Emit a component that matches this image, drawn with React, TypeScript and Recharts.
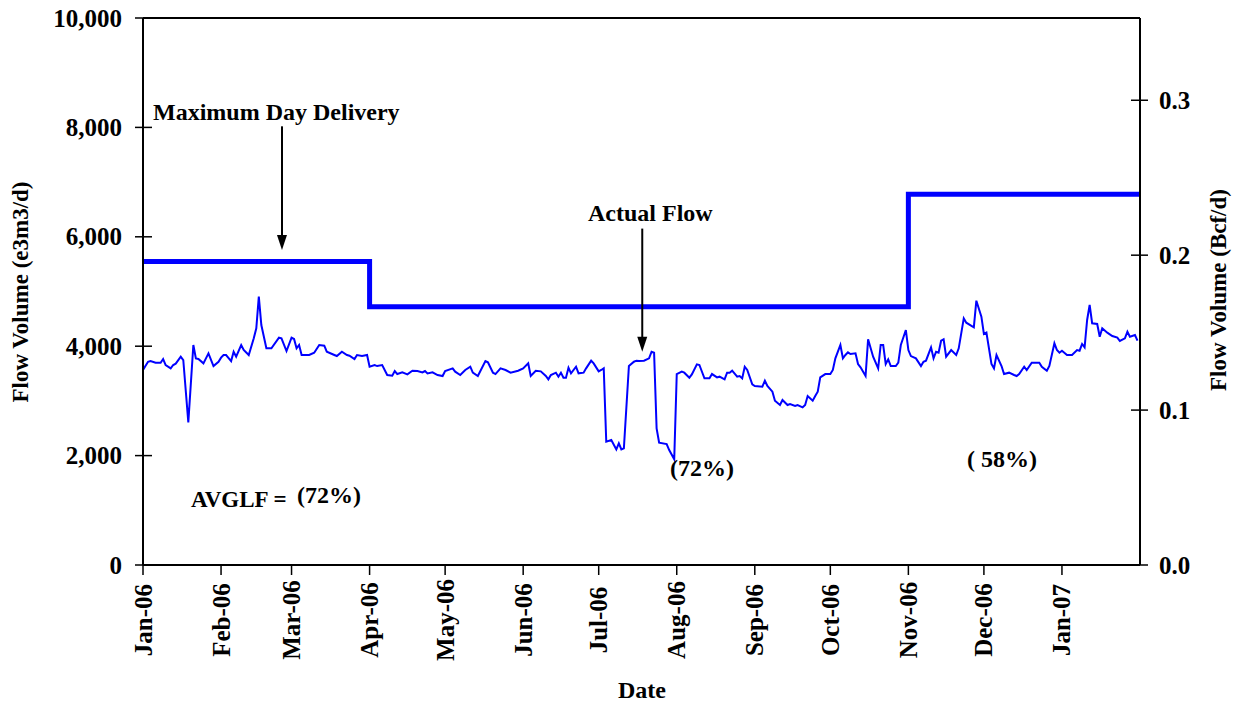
import React from 'react';
import { LineChart, Line, XAxis, YAxis, ReferenceLine } from 'recharts';

// x = days since 1 Jan 2006
const MONTH_TICKS = [0, 31, 59, 90, 120, 151, 181, 212, 243, 273, 304, 334, 365];
const MONTH_LABELS = ['Jan-06', 'Feb-06', 'Mar-06', 'Apr-06', 'May-06', 'Jun-06', 'Jul-06',
  'Aug-06', 'Sep-06', 'Oct-06', 'Nov-06', 'Dec-06', 'Jan-07'];

const LEFT_TICKS = [0, 2000, 4000, 6000, 8000, 10000];
const RIGHT_TICKS = [0, 0.1, 0.2, 0.3];

// Maximum day delivery (e3m3/d), step changes
const MDD_DAYS = [0, 90, 304, 396];
const MDD_VALUES = [5550, 4720, 6780, 6780];

// Actual flow (e3m3/d)
const FLOW_DAYS = [
  0, 2, 3, 5, 7, 8, 9, 11, 12, 13, 15, 16, 18, 20, 21, 22, 24, 26, 28, 30,
  31, 32, 33, 35, 36, 37, 39, 40, 42, 44, 45, 46, 47, 49, 51, 54, 55, 57, 59, 60,
  61, 62, 63, 66, 68, 70, 72, 73, 76, 77, 79, 81, 82, 84, 85, 87, 89, 90, 92, 93,
  95, 97, 99, 100, 101, 103, 105, 107, 109, 111, 112, 113, 115, 117, 119, 120, 123, 124, 126, 128,
  130, 131, 133, 136, 137, 139, 140, 142, 144, 146, 149, 151, 153, 154, 156, 158, 160, 161, 162, 164,
  165, 166, 167, 168, 169, 170, 172, 173, 175, 176, 178, 179, 181, 182, 183, 184, 186, 188, 189, 190,
  191, 193, 195, 196, 197, 199, 201, 202, 203, 204, 205, 208, 209, 211, 212, 214, 215, 217, 218, 220,
  221, 223, 225, 226, 228, 229, 231, 232, 233, 234, 236, 237, 238, 239, 240, 242, 243, 246, 247, 248,
  250, 251, 253, 254, 256, 257, 259, 260, 262, 263, 264, 266, 267, 268, 269, 271, 273, 274, 275, 276,
  277, 278, 279, 280, 281, 283, 284, 285, 287, 288, 290, 292, 293, 294, 295, 296, 297, 299, 300, 301,
  303, 304, 305, 307, 309, 310, 311, 313, 314, 315, 316, 317, 318, 319, 321, 323, 324, 326, 327, 330,
  331, 333, 334, 335, 337, 338, 339, 341, 342, 344, 346, 347, 348, 350, 351, 353, 356, 357, 359, 360,
  362, 363, 364, 365, 367, 369, 371, 372, 373, 374, 375, 376, 377, 379, 380, 381, 383, 385, 387, 388,
  390, 391, 392, 394, 395,
];
const FLOW_VALUES = [
  3565, 3716, 3729, 3698, 3698, 3766, 3656, 3595, 3656, 3680, 3808, 3747, 2608, 4022, 3778, 3766, 3686, 3869, 3637, 3716,
  3790, 3839, 3839, 3729, 3899, 3808, 4022, 3930, 3839, 4144, 4327, 4905, 4387, 3961, 3961, 4156, 4144, 3912, 4156, 4131,
  3961, 4022, 3839, 3839, 3881, 4022, 4010, 3899, 3839, 3820, 3899, 3839, 3827, 3766, 3839, 3820, 3839, 3625, 3656, 3637,
  3656, 3473, 3461, 3546, 3491, 3522, 3485, 3552, 3546, 3522, 3546, 3503, 3522, 3473, 3455, 3546, 3595, 3534, 3473, 3565,
  3625, 3516, 3455, 3729, 3705, 3516, 3491, 3595, 3565, 3516, 3552, 3595, 3686, 3455, 3552, 3540, 3455, 3394, 3473, 3516,
  3443, 3516, 3424, 3424, 3607, 3504, 3625, 3504, 3516, 3595, 3735, 3686, 3540, 3565, 3595, 2254, 2284, 2114, 2223, 2114,
  2132, 3638, 3716, 3735, 3729, 3735, 3778, 3899, 3881, 2499, 2236, 2211, 2102, 1932, 3491, 3534, 3516, 3424, 3485, 3668,
  3656, 3412, 3412, 3491, 3430, 3443, 3394, 3516, 3516, 3552, 3443, 3455, 3412, 3625, 3565, 3303, 3272, 3260, 3369, 3272,
  3168, 3004, 2925, 3016, 2925, 2943, 2907, 2925, 2883, 2925, 3089, 3004, 3089, 3168, 3431, 3491, 3491, 3565, 3778, 3900,
  4022, 3778, 3839, 3888, 3857, 3869, 3674, 3613, 3455, 4126, 3808, 3595, 4022, 4022, 3674, 3759, 3638, 3638, 3698, 4022,
  4296, 3930, 3820, 3778, 3638, 3716, 3735, 3979, 3778, 3899, 3881, 4101, 4126, 3808, 3930, 3839, 3961, 4509, 4430, 4345,
  4832, 4539, 4223, 4248, 3674, 3595, 3839, 3638, 3491, 3516, 3473, 3455, 3491, 3625, 3565, 3698, 3698, 3625, 3552, 3638,
  4052, 3930, 3881, 3918, 3839, 3839, 3930, 3918, 4040, 3979, 4479, 4753, 4418, 4406, 4174, 4327, 4248, 4187, 4156, 4095,
  4144, 4265, 4174, 4205, 4101,
];

const flowData = FLOW_DAYS.map((d, i) => ({ day: d, flow: FLOW_VALUES[i] }));
const mddData = MDD_DAYS.map((d, i) => ({ day: d, mdd: MDD_VALUES[i] }));

const FONT = '"Liberation Serif", "Times New Roman", serif';
const BLUE = '#0000ff';

const LeftTick = (p: any) => {
  const ax = p.x + 21;
  return (
    <g>
      <line x1={ax - 8} x2={ax + 9} y1={p.y} y2={p.y} stroke="#000" strokeWidth={1.5} />
      <text x={p.x} y={p.y} dy="0.34em" textAnchor="end" fontFamily={FONT} fontWeight="bold" fontSize={25} fill="#000">
        {p.payload.value.toLocaleString('en-US')}
      </text>
    </g>
  );
};

const RightTick = (p: any) => {
  const ax = p.x - 19;
  return (
    <g>
      <line x1={ax - 9} x2={ax + 8} y1={p.y} y2={p.y} stroke="#000" strokeWidth={1.5} />
      <text x={p.x} y={p.y} dy="0.34em" textAnchor="start" fontFamily={FONT} fontWeight="bold" fontSize={25} fill="#000">
        {p.payload.value.toFixed(1)}
      </text>
    </g>
  );
};

const BottomTick = (p: any) => {
  const idx = MONTH_TICKS.indexOf(p.payload.value);
  const cy = 620;
  return (
    <g>
      <line x1={p.x} x2={p.x} y1={p.y} y2={p.y + 10} stroke="#000" strokeWidth={1.5} />
      <text x={p.x} y={cy} dy="0.34em" transform={`rotate(-90 ${p.x} ${cy})`} textAnchor="middle"
        fontFamily={FONT} fontWeight="bold" fontSize={25} fill="#000">
        {MONTH_LABELS[idx]}
      </text>
    </g>
  );
};

const Arrow = (p: any) => (
  <g>
    <line x1={p.x1} y1={p.y1} x2={p.x2} y2={p.y2 - 10} stroke="#000" strokeWidth={2} />
    <polygon points={`${p.x2},${p.y2} ${p.x2 - 5},${p.y2 - 15} ${p.x2 + 5},${p.y2 - 15}`} fill="#000" />
  </g>
);

const txt = { fontFamily: FONT, fontWeight: 'bold' as const, fill: '#000' };

export default function App() {
  return (
    <div style={{ position: 'absolute', left: 0, top: 0, width: 1242, height: 702, background: '#fff' }}>
      <LineChart width={1242} height={702} margin={{ top: 18, right: 0, bottom: 0, left: 0 }}>
        <XAxis
          dataKey="day" type="number" domain={[0, 396]} ticks={MONTH_TICKS}
          height={137} tickSize={0} tickMargin={0} tick={BottomTick}
          axisLine={{ stroke: '#000', strokeWidth: 2 }} allowDataOverflow
        />
        <YAxis
          yAxisId="left" domain={[0, 10000]} ticks={LEFT_TICKS} width={143}
          tickSize={0} tickMargin={21} tick={LeftTick}
          axisLine={{ stroke: '#000', strokeWidth: 2 }}
        />
        <YAxis
          yAxisId="right" orientation="right" domain={[0, 0.3531]} ticks={RIGHT_TICKS} width={102}
          tickSize={0} tickMargin={19} tick={RightTick}
          axisLine={{ stroke: '#000', strokeWidth: 2 }} allowDataOverflow
        />
        <ReferenceLine yAxisId="left" y={10000} stroke="#000" strokeWidth={2} />
        <Line
          yAxisId="left" data={mddData} dataKey="mdd" type="stepAfter"
          stroke={BLUE} strokeWidth={5} dot={false} isAnimationActive={false}
        />
        <Line
          yAxisId="left" data={flowData} dataKey="flow" type="linear"
          stroke={BLUE} strokeWidth={2} dot={false} isAnimationActive={false}
        />
        <ReferenceLine yAxisId="left" segment={[{ x: 55.2, y: 8020 }, { x: 55.2, y: 5760 }]} shape={Arrow} />
        <ReferenceLine yAxisId="left" segment={[{ x: 198.3, y: 6150 }, { x: 198.3, y: 3900 }]} shape={Arrow} />
      </LineChart>

      <svg width={1242} height={702} style={{ position: 'absolute', left: 0, top: 0, pointerEvents: 'none' }}>
        <text {...txt} fontSize={23} x={20} y={292} dy="0.34em" textAnchor="middle" transform="rotate(-90 20 292)">
          Flow Volume (e3m3/d)
        </text>
        <text {...txt} fontSize={23} x={1218} y={290} dy="0.34em" textAnchor="middle" transform="rotate(-90 1218 290)">
          Flow Volume (Bcf/d)
        </text>
        <text {...txt} fontSize={24} x={642} y={698} textAnchor="middle">Date</text>
        <text {...txt} fontSize={24} x={153} y={120}>Maximum Day Delivery</text>
        <text {...txt} fontSize={24} x={588} y={221}>Actual Flow</text>
        <text {...txt} fontSize={24} x={670} y={476}>(72%)</text>
        <text {...txt} fontSize={24} x={967} y={467} style={{ whiteSpace: 'pre' }}>( 58%)</text>
        <text {...txt} fontSize={23} x={191} y={507}>AVGLF = </text>
        <text {...txt} fontSize={24} x={297} y={503}>(72%)</text>
      </svg>
    </div>
  );
}
